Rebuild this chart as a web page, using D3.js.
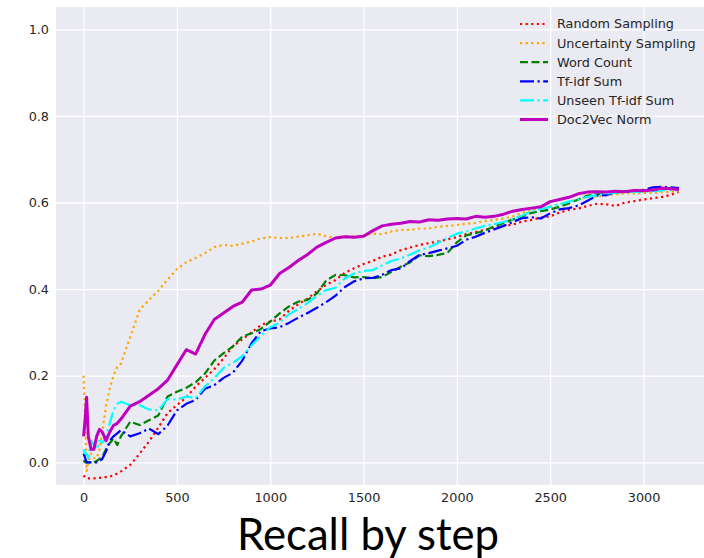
<!DOCTYPE html>
<html>
<head>
<meta charset="utf-8">
<script src="https://cdn.jsdelivr.net/npm/d3@7"></script>
<style>
  html, body { margin: 0; padding: 0; background: #ffffff; }
  svg { display: block; }
</style>
</head>
<body>
<svg id="chart" width="704" height="558"></svg>
<script>
// Recall measured at each labelling step, one series per sampling strategy.
const steps = [
  0, 8, 16, 25, 40, 55, 70, 85, 100, 120,
  140, 160, 180, 200, 250, 300, 350, 400, 450, 500,
  550, 600, 650, 700, 750, 800, 850, 900, 950, 1000,
  1050, 1100, 1150, 1200, 1250, 1300, 1350, 1400, 1450, 1500,
  1550, 1600, 1650, 1700, 1750, 1800, 1850, 1900, 1950, 2000,
  2050, 2100, 2150, 2200, 2250, 2300, 2350, 2400, 2450, 2500,
  2550, 2600, 2650, 2700, 2750, 2800, 2850, 2900, 2950, 3000,
  3050, 3100, 3150, 3190
];

const randomSampling = [
  -0.030, -0.035, -0.037, -0.037, -0.037, -0.037, -0.036, -0.036, -0.035, -0.034,
  -0.033, -0.030, -0.026, -0.021, -0.006, 0.020, 0.048, 0.080, 0.114, 0.132,
  0.150, 0.175, 0.195, 0.215, 0.240, 0.268, 0.284, 0.300, 0.317, 0.325,
  0.330, 0.350, 0.365, 0.378, 0.395, 0.410, 0.421, 0.438, 0.448, 0.458,
  0.465, 0.475, 0.480, 0.490, 0.496, 0.502, 0.506, 0.510, 0.515, 0.520,
  0.527, 0.532, 0.537, 0.542, 0.546, 0.549, 0.556, 0.560, 0.565, 0.568,
  0.577, 0.583, 0.586, 0.592, 0.597, 0.596, 0.592, 0.600, 0.603, 0.607,
  0.610, 0.613, 0.618, 0.625
];

const uncertaintySampling = [
  0.200, 0.100, -0.020, 0.000, 0.020, 0.010, 0.010, 0.030, 0.070, 0.130,
  0.170, 0.200, 0.220, 0.228, 0.290, 0.352, 0.375, 0.396, 0.422, 0.446,
  0.462, 0.472, 0.483, 0.497, 0.502, 0.500, 0.505, 0.510, 0.517, 0.520,
  0.518, 0.518, 0.521, 0.524, 0.528, 0.522, 0.518, 0.522, 0.522, 0.524,
  0.528, 0.527, 0.533, 0.537, 0.537, 0.540, 0.540, 0.544, 0.546, 0.548,
  0.551, 0.553, 0.557, 0.560, 0.563, 0.568, 0.576, 0.583, 0.586, 0.590,
  0.596, 0.602, 0.607, 0.612, 0.614, 0.617, 0.619, 0.621, 0.621, 0.622,
  0.622, 0.624, 0.625, 0.625
];

const wordCount = [
  0.005, 0.000, 0.000, 0.000, 0.000, 0.000, 0.003, 0.008, 0.012, 0.030,
  0.044, 0.055, 0.040, 0.060, 0.094, 0.086, 0.097, 0.108, 0.152, 0.163,
  0.172, 0.185, 0.205, 0.235, 0.252, 0.268, 0.290, 0.298, 0.308, 0.325,
  0.344, 0.360, 0.371, 0.375, 0.390, 0.420, 0.433, 0.432, 0.427, 0.428,
  0.425, 0.428, 0.440, 0.452, 0.462, 0.478, 0.476, 0.479, 0.484, 0.508,
  0.524, 0.529, 0.535, 0.545, 0.553, 0.561, 0.568, 0.576, 0.580, 0.584,
  0.590, 0.598, 0.607, 0.616, 0.619, 0.621, 0.623, 0.625, 0.626, 0.628,
  0.629, 0.631, 0.633, 0.633
];

const tfidfSum = [
  0.020, 0.010, 0.000, 0.000, 0.000, 0.000, 0.000, 0.002, 0.008, 0.025,
  0.050, 0.060, 0.067, 0.074, 0.060, 0.067, 0.078, 0.065, 0.085, 0.120,
  0.135, 0.144, 0.170, 0.178, 0.195, 0.207, 0.235, 0.275, 0.303, 0.309,
  0.312, 0.322, 0.334, 0.345, 0.357, 0.370, 0.385, 0.405, 0.418, 0.425,
  0.426, 0.433, 0.444, 0.448, 0.465, 0.479, 0.483, 0.489, 0.494, 0.500,
  0.514, 0.521, 0.530, 0.538, 0.546, 0.555, 0.564, 0.566, 0.563, 0.575,
  0.584, 0.587, 0.593, 0.604, 0.616, 0.617, 0.624, 0.625, 0.626, 0.629,
  0.635, 0.636, 0.635, 0.633
];

const unseenTfidfSum = [
  0.030, 0.020, 0.020, 0.010, 0.050, 0.040, 0.030, 0.050, 0.045, 0.060,
  0.090, 0.120, 0.135, 0.140, 0.132, 0.132, 0.122, 0.120, 0.146, 0.145,
  0.152, 0.148, 0.175, 0.195, 0.218, 0.230, 0.245, 0.270, 0.292, 0.312,
  0.323, 0.342, 0.354, 0.368, 0.384, 0.398, 0.403, 0.425, 0.436, 0.442,
  0.444, 0.455, 0.465, 0.471, 0.480, 0.490, 0.496, 0.507, 0.518, 0.528,
  0.533, 0.540, 0.546, 0.550, 0.555, 0.562, 0.570, 0.580, 0.585, 0.590,
  0.596, 0.602, 0.607, 0.613, 0.617, 0.621, 0.623, 0.625, 0.625, 0.625,
  0.626, 0.628, 0.629, 0.629
];

const doc2vecNorm = [
  0.060, 0.100, 0.150, 0.060, 0.030, 0.030, 0.060, 0.076, 0.070, 0.050,
  0.070, 0.085, 0.090, 0.100, 0.130, 0.140, 0.155, 0.170, 0.190, 0.225,
  0.260, 0.250, 0.295, 0.330, 0.345, 0.360, 0.370, 0.398, 0.400, 0.409,
  0.436, 0.450, 0.466, 0.480, 0.497, 0.508, 0.518, 0.521, 0.520, 0.522,
  0.535, 0.546, 0.550, 0.552, 0.556, 0.555, 0.560, 0.559, 0.562, 0.563,
  0.562, 0.568, 0.566, 0.568, 0.573, 0.580, 0.584, 0.587, 0.590, 0.602,
  0.607, 0.612, 0.620, 0.624, 0.625, 0.624, 0.626, 0.625, 0.628, 0.627,
  0.629, 0.633, 0.632, 0.630
];

const seriesNames = [
  "Random Sampling", "Uncertainty Sampling", "Word Count",
  "Tf-idf Sum", "Unseen Tf-idf Sum", "Doc2Vec Norm"
];
const seriesValues = [
  randomSampling, uncertaintySampling, wordCount,
  tfidfSum, unseenTfidfSum, doc2vecNorm
];

const xTicks = [0, 500, 1000, 1500, 2000, 2500, 3000];
const yTicks = [0.0, 0.2, 0.4, 0.6, 0.8, 1.0];
const chartTitle = "Recall by step";

// Line styles (matplotlib-like: dotted, dashed, dash-dot, solid)
const styles = [
  { color: "#ff0000", width: 2.2, dash: "2.2,3.4" },
  { color: "#ffa500", width: 2.2, dash: "2.2,3.4" },
  { color: "#008000", width: 2.2, dash: "8,3.5" },
  { color: "#0000ff", width: 2.2, dash: "14,3.5,2.2,3.5" },
  { color: "#00ffff", width: 2.2, dash: "14,3.5,2.2,3.5" },
  { color: "#bf00bf", width: 3.0, dash: null }
];

const plot = { left: 56, top: 7, right: 704, bottom: 485 };

const x = d3.scaleLinear().domain([-148, 3324]).range([plot.left, plot.right]);
const y = d3.scaleLinear().domain([-0.0524, 1.0515]).range([plot.bottom, plot.top]);

const svg = d3.select("#chart");
const textColor = "#262626";
const tickFont = "'DejaVu Sans', sans-serif";

svg.append("rect")
  .attr("x", plot.left).attr("y", plot.top)
  .attr("width", plot.right - plot.left).attr("height", plot.bottom - plot.top)
  .attr("fill", "#eaeaf2");

svg.append("defs").append("clipPath").attr("id", "plot-clip")
  .append("rect")
  .attr("x", plot.left).attr("y", plot.top)
  .attr("width", plot.right - plot.left).attr("height", plot.bottom - plot.top);

// Grid via axes with full-length ticks
const xGrid = svg.append("g")
  .attr("transform", `translate(0,${plot.bottom})`)
  .call(d3.axisBottom(x).tickValues(xTicks).tickSize(-(plot.bottom - plot.top)).tickFormat(""));
const yGrid = svg.append("g")
  .attr("transform", `translate(${plot.left},0)`)
  .call(d3.axisLeft(y).tickValues(yTicks).tickSize(-(plot.right - plot.left)).tickFormat(""));
[xGrid, yGrid].forEach(g => {
  g.select(".domain").remove();
  g.selectAll(".tick line").attr("stroke", "#ffffff").attr("stroke-width", 1.3);
});

// Tick labels
const xAxis = svg.append("g")
  .attr("transform", `translate(0,${plot.bottom})`)
  .call(d3.axisBottom(x).tickValues(xTicks).tickSize(0).tickPadding(8).tickFormat(d3.format("d")));
const yAxis = svg.append("g")
  .attr("transform", `translate(${plot.left},0)`)
  .call(d3.axisLeft(y).tickValues(yTicks).tickSize(0).tickPadding(7).tickFormat(d3.format(".1f")));
[xAxis, yAxis].forEach(g => {
  g.select(".domain").remove();
  g.selectAll(".tick text")
    .attr("fill", textColor)
    .style("font-family", tickFont)
    .style("font-size", "12.8px");
});

// Series lines
const line = d3.line()
  .x((d, i) => x(steps[i]))
  .y(d => y(d));

const linesG = svg.append("g").attr("clip-path", "url(#plot-clip)");
seriesValues.forEach((vals, k) => {
  const s = styles[k];
  linesG.append("path")
    .datum(vals)
    .attr("d", line)
    .attr("fill", "none")
    .attr("stroke", s.color)
    .attr("stroke-width", s.width)
    .attr("stroke-linejoin", "round")
    .attr("stroke-dasharray", s.dash);
});

// Legend
const legend = svg.append("g");
const legendY0 = 24, legendStep = 19.1;
seriesNames.forEach((name, k) => {
  const s = styles[k];
  const cy = legendY0 + k * legendStep;
  legend.append("line")
    .attr("x1", 520).attr("x2", 548)
    .attr("y1", cy).attr("y2", cy)
    .attr("stroke", s.color)
    .attr("stroke-width", s.width)
    .attr("stroke-dasharray", s.dash);
  legend.append("text")
    .attr("x", 557).attr("y", cy)
    .attr("dy", "0.35em")
    .attr("fill", textColor)
    .style("font-family", tickFont)
    .style("font-size", "12.8px")
    .text(name);
});

// Caption under the chart
svg.append("text")
  .attr("x", 368).attr("y", 550)
  .attr("text-anchor", "middle")
  .attr("textLength", 262)
  .attr("lengthAdjust", "spacingAndGlyphs")
  .attr("fill", "#000000")
  .style("font-family", "Lato, 'Open Sans', sans-serif")
  .style("font-size", "44px")
  .text(chartTitle);
</script>
</body>
</html>
